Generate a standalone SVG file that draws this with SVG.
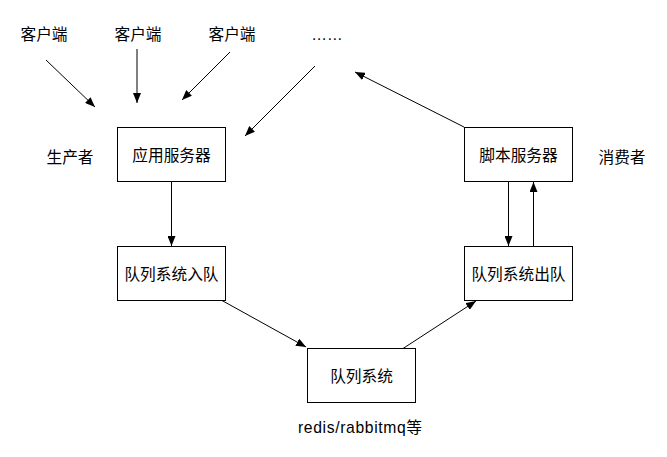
<svg xmlns="http://www.w3.org/2000/svg" width="667" height="457" viewBox="0 0 667 457">
<style>
text{font-family:"Liberation Sans","Noto Sans CJK SC",sans-serif;font-size:15.7px;fill:#000;text-anchor:middle;dominant-baseline:central}
.box{fill:#fff;stroke:#000;stroke-width:1}
.c{stroke:#000;stroke-width:1;fill:none;marker-end:url(#ah)}
</style>
<defs>
<marker id="ah" viewBox="0 0 10 8" refX="10" refY="4" markerWidth="10" markerHeight="8" markerUnits="userSpaceOnUse" orient="auto">
<path d="M0,0L10,4L0,8z" fill="#000"/>
</marker>
</defs>
<rect width="667" height="457" fill="#fff"/>
<g id="labels">
<text x="44" y="34">客户端</text>
<text x="138" y="34">客户端</text>
<text x="232" y="34">客户端</text>
<text x="327" y="34">……</text>
<text x="70" y="157">生产者</text>
<text x="622" y="157">消费者</text>
<text x="360" y="427" textLength="124" lengthAdjust="spacing">redis/rabbitmq等</text>
</g>
<g id="app-server"><rect class="box" x="117.5" y="127.5" width="108" height="54"/><text x="171.5" y="155">应用服务器</text></g>
<g id="enqueue"><rect class="box" x="117.5" y="246.5" width="108" height="54"/><text x="171.5" y="274">队列系统入队</text></g>
<g id="queue"><rect class="box" x="307.5" y="348.5" width="108" height="54"/><text x="361.5" y="376">队列系统</text></g>
<g id="dequeue"><rect class="box" x="464.5" y="246.5" width="108" height="54"/><text x="518.5" y="274">队列系统出队</text></g>
<g id="script-server"><rect class="box" x="464.5" y="127.5" width="108" height="54"/><text x="518.5" y="155">脚本服务器</text></g>
<g id="connectors">
<line class="c" x1="46" y1="60" x2="95" y2="107"/>
<line class="c" x1="137" y1="49" x2="137" y2="103"/>
<line class="c" x1="230" y1="52" x2="182" y2="100"/>
<line class="c" x1="315" y1="66" x2="245" y2="136"/>
<line class="c" x1="464" y1="127" x2="355" y2="72"/>
<line class="c" x1="171.5" y1="181.5" x2="171.5" y2="246"/>
<line class="c" x1="508.5" y1="181.5" x2="508.5" y2="246"/>
<line class="c" x1="533.5" y1="246.5" x2="533.5" y2="182"/>
<line class="c" x1="222" y1="300.5" x2="306" y2="347"/>
<line class="c" x1="403" y1="348.5" x2="476" y2="301"/>
</g>
</svg>
